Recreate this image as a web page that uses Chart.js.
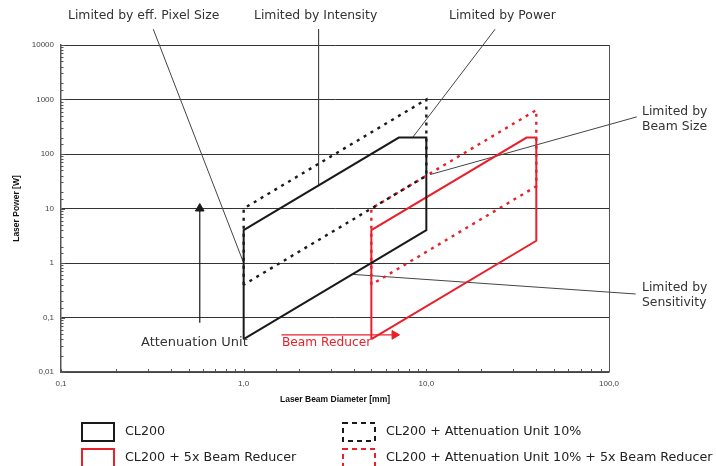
<!DOCTYPE html>
<html>
<head>
<meta charset="utf-8">
<script src="https://cdn.jsdelivr.net/npm/chart.js@4.4.1/dist/chart.umd.min.js"></script>
<style>
  html, body { margin: 0; padding: 0; background: #fff; }
  canvas { display: block; }
</style>
</head>
<body>
<canvas id="powerChart" width="716" height="466"></canvas>
<script>
// working ranges (beam diameter mm / laser power W)
const cl200X = [1, 1, 7.07, 10, 10, 1];
const cl200Y = [0.04, 4, 200, 200, 4, 0.04];
const attenuationX = [1, 1, 10, 10, 1];
const attenuationY = [0.4, 10, 1000, 40, 0.4];
const reducerX = [5, 5, 35.4, 40, 40, 5];
const reducerY = [0.04, 4, 200, 200, 2.56, 0.04];
const attReducerX = [5, 5, 40, 40, 5];
const attReducerY = [0.4, 10, 640, 25.6, 0.4];

// leader lines of the callouts
const pixelSizeX = [0.32, 1];
const pixelSizeY = [19500, 1];
const intensityX = [2.57, 2.57];
const intensityY = [19500, 26.4];
const powerX = [23.8, 8.4];
const powerY = [19500, 200];
const beamSizeX = [142, 10.5];
const beamSizeY = [480, 42];
const sensitivityX = [140, 3.9];
const sensitivityY = [0.27, 0.62];

// arrows
const attArrowX = [0.575, 0.575];
const attArrowY = [0.08, 10];
const reducerArrowX = [1.61, 6.7];
const reducerArrowY = [0.048, 0.048];

const xTickValues = [0.1, 1, 10, 100];
const xTickLabels = ['0,1', '1,0', '10,0', '100,0'];
const yTickValues = [10000, 1000, 100, 10, 1, 0.1, 0.01];
const yTickLabels = ['10000', '1000', '100', '10', '1', '0,1', '0,01'];

const BLACK = '#1a1a1a';
const RED = '#e8202a';
const GREY = '#444';
const TXT = "'DejaVu Sans', sans-serif";

const pts = (xs, ys) => xs.map((x, i) => ({ x, y: ys[i] }));
const isDecade = v => Math.abs(Math.log10(v) - Math.round(Math.log10(v))) < 1e-6;
const labelFor = (vals, labels, v) => {
  const i = vals.findIndex(t => Math.abs(t - v) / t < 1e-6);
  return i >= 0 ? labels[i] : '';
};

function shape(xs, ys, color, dash) {
  return { data: pts(xs, ys), showLine: true, borderColor: color, borderWidth: dash ? 2.4 : 2,
    borderDash: dash ? [3, 5] : [], pointRadius: 0, fill: false, tension: 0 };
}
function leader(xs, ys) {
  return { data: pts(xs, ys), showLine: true, borderColor: GREY, borderWidth: 1, pointRadius: 0, clip: false };
}
function arrow(xs, ys, color, rot) {
  return { data: pts(xs, ys), showLine: true, borderColor: color, backgroundColor: color, borderWidth: 1.2,
    pointStyle: 'triangle', pointRadius: [0, 5], pointRotation: rot, pointBorderWidth: 1, clip: false };
}

const callouts = [
  { text: 'Limited by eff. Pixel Size', x: 68, y: 16 },
  { text: 'Limited by Intensity', x: 254, y: 16 },
  { text: 'Limited by Power', x: 449, y: 16 },
  { text: 'Limited by', x: 642, y: 112 },
  { text: 'Beam Size', x: 642, y: 127 },
  { text: 'Limited by', x: 642, y: 288 },
  { text: 'Sensitivity', x: 642, y: 303 },
];

const legendItems = [
  { text: 'CL200', color: BLACK, dash: false, x: 82, y: 423 },
  { text: 'CL200 + 5x Beam Reducer', color: RED, dash: false, x: 82, y: 449 },
  { text: 'CL200 + Attenuation Unit 10%', color: BLACK, dash: true, x: 343, y: 423 },
  { text: 'CL200 + Attenuation Unit 10% + 5x Beam Reducer', color: RED, dash: true, x: 343, y: 449 },
];

const extras = {
  id: 'extras',
  afterDraw(chart) {
    const ctx = chart.ctx;
    const { x, y } = chart.scales;
    const area = chart.chartArea;
    ctx.save();
    // inward minor ticks
    ctx.strokeStyle = '#555';
    ctx.lineWidth = 1;
    x.ticks.forEach(t => {
      const px = Math.round(x.getPixelForValue(t.value)) + 0.5;
      ctx.beginPath(); ctx.moveTo(px, area.bottom); ctx.lineTo(px, area.bottom - 3); ctx.stroke();
    });
    y.ticks.forEach(t => {
      const py = Math.round(y.getPixelForValue(t.value)) + 0.5;
      ctx.beginPath(); ctx.moveTo(area.left, py); ctx.lineTo(area.left + (isDecade(t.value) ? 4 : 2.5), py); ctx.stroke();
    });

    // callout texts
    ctx.textBaseline = 'middle';
    ctx.textAlign = 'left';
    ctx.fillStyle = '#333';
    ctx.font = `12.4px ${TXT}`;
    callouts.forEach(c => ctx.fillText(c.text, c.x, c.y));
    ctx.font = `13px ${TXT}`;
    ctx.fillText('Attenuation Unit', 141, 343);
    ctx.fillStyle = RED;
    ctx.font = `12.2px ${TXT}`;
    ctx.fillText('Beam Reducer', 282, 343);

    // legend
    ctx.font = `12.7px ${TXT}`;
    legendItems.forEach(it => {
      ctx.strokeStyle = it.color;
      ctx.lineWidth = 2;
      ctx.setLineDash(it.dash ? [5, 4] : []);
      ctx.strokeRect(it.x, it.y, 32, 18);
      ctx.setLineDash([]);
      ctx.fillStyle = '#222';
      ctx.fillText(it.text, it.x + 43, it.y + 9);
    });
    ctx.restore();
  }
};

new Chart(document.getElementById('powerChart'), {
  type: 'scatter',
  data: {
    datasets: [
      shape(attenuationX, attenuationY, BLACK, true),
      shape(attReducerX, attReducerY, RED, true),
      shape(cl200X, cl200Y, BLACK, false),
      shape(reducerX, reducerY, RED, false),
      leader(pixelSizeX, pixelSizeY),
      leader(intensityX, intensityY),
      leader(powerX, powerY),
      leader(beamSizeX, beamSizeY),
      leader(sensitivityX, sensitivityY),
      arrow(attArrowX, attArrowY, BLACK, 0),
      arrow(reducerArrowX, reducerArrowY, RED, 90),
    ]
  },
  options: {
    responsive: false,
    animation: false,
    layout: { padding: { left: 0, top: 45, right: 107, bottom: 52 } },
    plugins: { legend: { display: false }, tooltip: { enabled: false } },
    scales: {
      x: {
        type: 'logarithmic', min: 0.1, max: 100, position: 'bottom',
        afterFit: s => { s.height = 42; },
        grid: { drawTicks: false, lineWidth: 1,
          color: c => (c.tick && Math.abs(c.tick.value - 100) < 1e-6) ? '#555' : 'transparent' },
        border: { display: true, color: '#555', width: 1.5 },
        ticks: { autoSkip: false, maxRotation: 0, padding: 7, color: '#444',
          font: { family: "'Liberation Sans', Arial, sans-serif", size: 8 },
          callback: v => labelFor(xTickValues, xTickLabels, v) },
        title: { display: true, text: 'Laser Beam Diameter [mm]', color: '#111',
          font: { family: "'Liberation Sans', Arial, sans-serif", size: 8.5, weight: 'bold' },
          padding: { top: 0, bottom: 9 } }
      },
      y: {
        type: 'logarithmic', min: 0.01, max: 10000, position: 'left',
        afterFit: s => { s.width = 61; },
        grid: { drawTicks: false, lineWidth: 1,
          color: c => (c.tick && isDecade(c.tick.value)) ? '#333' : 'transparent' },
        border: { display: true, color: '#555', width: 1.5 },
        ticks: { autoSkip: false, padding: 7, color: '#444',
          font: { family: "'Liberation Sans', Arial, sans-serif", size: 8 },
          callback: v => labelFor(yTickValues, yTickLabels, v) },
        title: { display: true, text: 'Laser Power [W]', color: '#111',
          font: { family: "'Liberation Sans', Arial, sans-serif", size: 8.5, weight: 'bold' },
          padding: { top: 12, bottom: 0 } }
      }
    }
  },
  plugins: [extras]
});
</script>
</body>
</html>
